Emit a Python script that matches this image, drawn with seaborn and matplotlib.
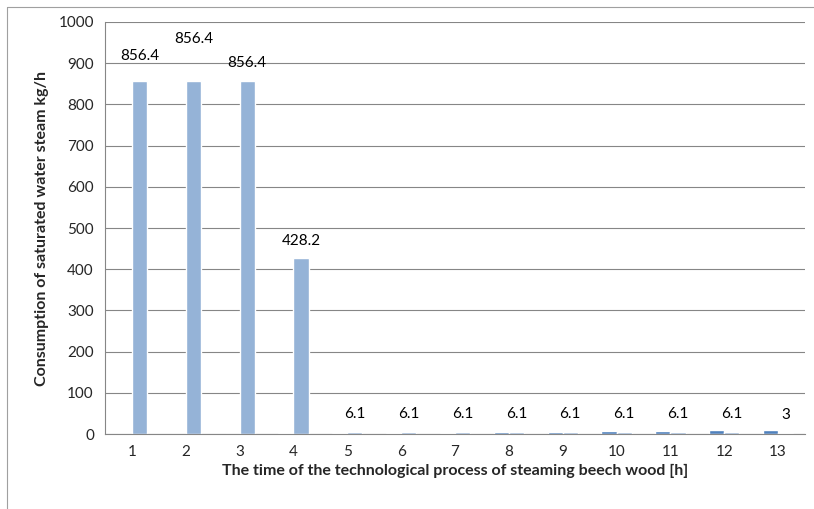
import matplotlib
matplotlib.use("Agg")
import matplotlib.pyplot as plt
import numpy as np
import pandas as pd
import seaborn as sns
from matplotlib.lines import Line2D

HOURS = [str(h) for h in range(1, 14)]
DARK_VALUES = [0, 0, 0, 2, 3, 4, 4, 6, 6, 8, 8, 10, 10]
LIGHT_VALUES = [856.4, 856.4, 856.4, 428.2, 6.1, 6.1, 6.1, 6.1, 6.1, 6.1, 6.1, 6.1, 3]
LIGHT_LABELS = ["856.4", "856.4", "856.4", "428.2", "6.1", "6.1", "6.1", "6.1", "6.1", "6.1", "6.1", "6.1", "3"]
SERIES = ["a", "b"]
COLORS = ["#4F81BD", "#95B3D7"]
# Excel nudged the labels of the first three bars so they do not collide
LABEL_PAD = [13, 25, 8, 7, 8, 8, 8, 8, 8, 8, 8, 8, 8]

GRID = "#868686"


def main() -> None:
    sns.set_theme(style="white")
    plt.rcParams["font.family"] = ["Lato", "DejaVu Sans"]

    df = pd.DataFrame({
        "hour": HOURS * 2,
        "value": DARK_VALUES + LIGHT_VALUES,
        "series": [SERIES[0]] * len(HOURS) + [SERIES[1]] * len(HOURS),
    })

    fig = plt.figure(figsize=(8.14, 5.09), dpi=100)
    ax = fig.add_axes([0.129, 0.147, 0.860, 0.810])
    sns.barplot(data=df, x="hour", y="value", hue="series", order=HOURS, hue_order=SERIES,
                palette=COLORS, width=0.56, gap=0, saturation=1, legend=False, ax=ax)

    light = ax.containers[1]
    for bar, text, pad in zip(light, LIGHT_LABELS, LABEL_PAD):
        ax.annotate(text, (bar.get_x() + bar.get_width() / 2, bar.get_height()),
                    xytext=(0, pad), textcoords="offset points", ha="center", va="bottom",
                    fontsize=11, color="black")

    ax.set_xlim(-0.5, len(HOURS) - 0.5)
    ax.set_ylim(0, 1000)
    ax.set_yticks(np.arange(0, 1001, 100))
    ax.yaxis.grid(True, color=GRID, linewidth=0.8)
    ax.set_axisbelow(True)
    ax.set_xticks(np.arange(-0.5, len(HOURS)), minor=True)
    ax.tick_params(axis="x", which="major", length=0, labelsize=11, pad=8)
    ax.tick_params(axis="x", which="minor", length=5, color=GRID, width=0.8, direction="out")
    ax.tick_params(axis="y", length=5, color=GRID, width=0.8, direction="out", labelsize=11, pad=3)
    for side in ["top", "right"]:
        ax.spines[side].set_visible(False)
    for side in ["left", "bottom"]:
        ax.spines[side].set_color(GRID)
        ax.spines[side].set_linewidth(0.8)

    ax.set_xlabel("The time of the technological process of steaming beech wood [h]",
                  fontsize=11.5, fontweight="bold", labelpad=3)
    ax.set_ylabel("Consumption of saturated water steam kg/h", fontsize=11.5, fontweight="bold", labelpad=7)

    # chart frame as Excel draws it
    fig.add_artist(Line2D([7 / 814, 7 / 814], [0, 1 - 7 / 509], transform=fig.transFigure,
                          color="#A0A0A0", linewidth=0.8))
    fig.add_artist(Line2D([7 / 814, 1], [1 - 7 / 509, 1 - 7 / 509], transform=fig.transFigure,
                          color="#A0A0A0", linewidth=0.8))

    fig.savefig("out.png", dpi=100, facecolor="white")
    plt.close(fig)


if __name__ == "__main__":
    main()
